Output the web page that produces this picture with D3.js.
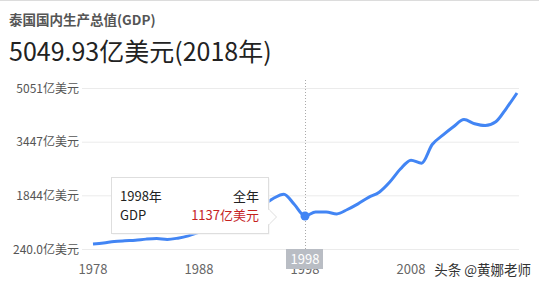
<!DOCTYPE html>
<html>
<head>
<meta charset="utf-8">
<script src="https://cdn.jsdelivr.net/npm/d3@7"></script>
<style>
  body { margin: 0; background: #fff; }
  svg { display: block; font-family: "Noto Sans CJK SC", "Noto Sans", sans-serif; }
</style>
</head>
<body>
<svg width="539" height="283"></svg>
<script>
// GDP of Thailand, 亿美元, per year
var years = d3.range(1978, 2019);
var gdp = [245, 278, 324, 348, 366, 400, 418, 389, 431, 505,
           617, 723, 853, 982, 1115, 1289, 1467, 1693, 1830, 1502,
           1137, 1267, 1264, 1203, 1343, 1523, 1729, 1893, 2218, 2629,
           2914, 2817, 3411, 3708, 3976, 4203, 4073, 4013, 4134, 4564,
           5050];
var yTickValues = [240, 1844, 3447, 5051];
var yTickLabels = ["240.0亿美元", "1844亿美元", "3447亿美元", "5051亿美元"];
var xTickValues = [1978, 1988, 1998, 2008];
var focusYear = 1998;

var svg = d3.select("svg"),
    width = +svg.attr("width"),
    height = +svg.attr("height");

var x = d3.scaleLinear().domain([1978, 2018]).range([93, 517]);
var yGrid = d3.scaleLinear().domain([240, 5051]).range([249, 88]);
var y = d3.scaleLinear().domain(d3.extent(gdp)).range([244, 93]);

svg.append("rect").attr("width", width).attr("height", 1).attr("fill", "#dcdcdc");

// header
svg.append("text")
    .attr("x", 9).attr("y", 25)
    .attr("font-size", "13.5px").attr("font-weight", "bold").attr("fill", "#555")
    .text("泰国国内生产总值(GDP)");
svg.append("text")
    .attr("x", 9).attr("y", 61)
    .attr("font-size", "25px").attr("fill", "#222")
    .text("5049.93亿美元(2018年)");

// grid + y labels
var grid = svg.append("g").selectAll("g")
    .data(yTickValues).enter().append("g");
grid.append("line")
    .attr("x1", 82).attr("x2", 519)
    .attr("y1", function(d) { return yGrid(d) + 0.5; })
    .attr("y2", function(d) { return yGrid(d) + 0.5; })
    .attr("stroke", "#ebebeb");
grid.append("text")
    .attr("x", 79)
    .attr("y", function(d) { return yGrid(d) + 4.5; })
    .attr("text-anchor", "end")
    .attr("font-size", "12px").attr("fill", "#555")
    .text(function(d, i) { return yTickLabels[i]; });

// x labels (the focus year label sits mostly under its badge)
svg.append("clipPath").attr("id", "below-badge")
  .append("rect").attr("x", 0).attr("y", 269).attr("width", width).attr("height", 20);
svg.append("g").selectAll("text")
    .data(xTickValues).enter().append("text")
    .attr("x", function(d) { return x(d); })
    .attr("y", 274)
    .attr("text-anchor", "middle")
    .attr("font-size", "13px").attr("fill", "#666")
    .attr("clip-path", function(d) { return d === focusYear ? "url(#below-badge)" : null; })
    .text(function(d) { return d; });

// focus rule
svg.append("line")
    .attr("x1", x(focusYear) + 0.5).attr("x2", x(focusYear) + 0.5)
    .attr("y1", 80).attr("y2", 250)
    .attr("stroke", "#aaa").attr("stroke-dasharray", "1,2");

// line
var line = d3.line()
    .x(function(d, i) { return x(years[i]); })
    .y(function(d) { return y(d); })
    .curve(d3.curveMonotoneX);

svg.append("path")
    .datum(gdp)
    .attr("d", line)
    .attr("fill", "none")
    .attr("stroke", "#4285f4")
    .attr("stroke-width", 3)
    .attr("stroke-linejoin", "round");

var fi = years.indexOf(focusYear);
svg.append("circle")
    .attr("cx", x(focusYear)).attr("cy", y(gdp[fi]))
    .attr("r", 4.5).attr("fill", "#4285f4");

// focus year badge on axis
svg.append("rect")
    .attr("x", x(focusYear) - 19).attr("y", 249)
    .attr("width", 37).attr("height", 20)
    .attr("fill", "#b9bdc4");
svg.append("text")
    .attr("x", x(focusYear)).attr("y", 264)
    .attr("text-anchor", "middle")
    .attr("font-size", "13px").attr("fill", "#fff")
    .text(focusYear);

// tooltip
var tip = svg.append("g").attr("transform", "translate(111,177)");
tip.append("rect")
    .attr("x", 1.5).attr("y", 1.5).attr("width", 157).attr("height", 56)
    .attr("fill", "#f2f2f2");
tip.append("rect")
    .attr("x", 0.5).attr("y", 0.5).attr("width", 157).attr("height", 56)
    .attr("fill", "#fff").attr("stroke", "#dedede");
tip.append("path")
    .attr("d", "M157.5,32 L165.5,40 L157.5,48")
    .attr("fill", "#fff").attr("stroke", "#dedede");
tip.append("rect")
    .attr("x", 156).attr("y", 33).attr("width", 2.5).attr("height", 14).attr("fill", "#fff");
tip.append("text").attr("x", 9).attr("y", 24)
    .attr("font-size", "13px").attr("fill", "#222").text(focusYear + "年");
tip.append("text").attr("x", 148).attr("y", 24).attr("text-anchor", "end")
    .attr("font-size", "13px").attr("fill", "#222").text("全年");
tip.append("text").attr("x", 9).attr("y", 43)
    .attr("font-size", "13px").attr("fill", "#222").text("GDP");
tip.append("text").attr("x", 148).attr("y", 43).attr("text-anchor", "end")
    .attr("font-size", "13px").attr("fill", "#c5221f").text(gdp[fi] + "亿美元");

// watermark
svg.append("text")
    .attr("x", 531).attr("y", 275)
    .attr("text-anchor", "end")
    .attr("font-size", "13.5px").attr("fill", "#333")
    .attr("stroke", "#fff").attr("stroke-width", 2).attr("paint-order", "stroke")
    .text("头条 @黄娜老师");
</script>
</body>
</html>
